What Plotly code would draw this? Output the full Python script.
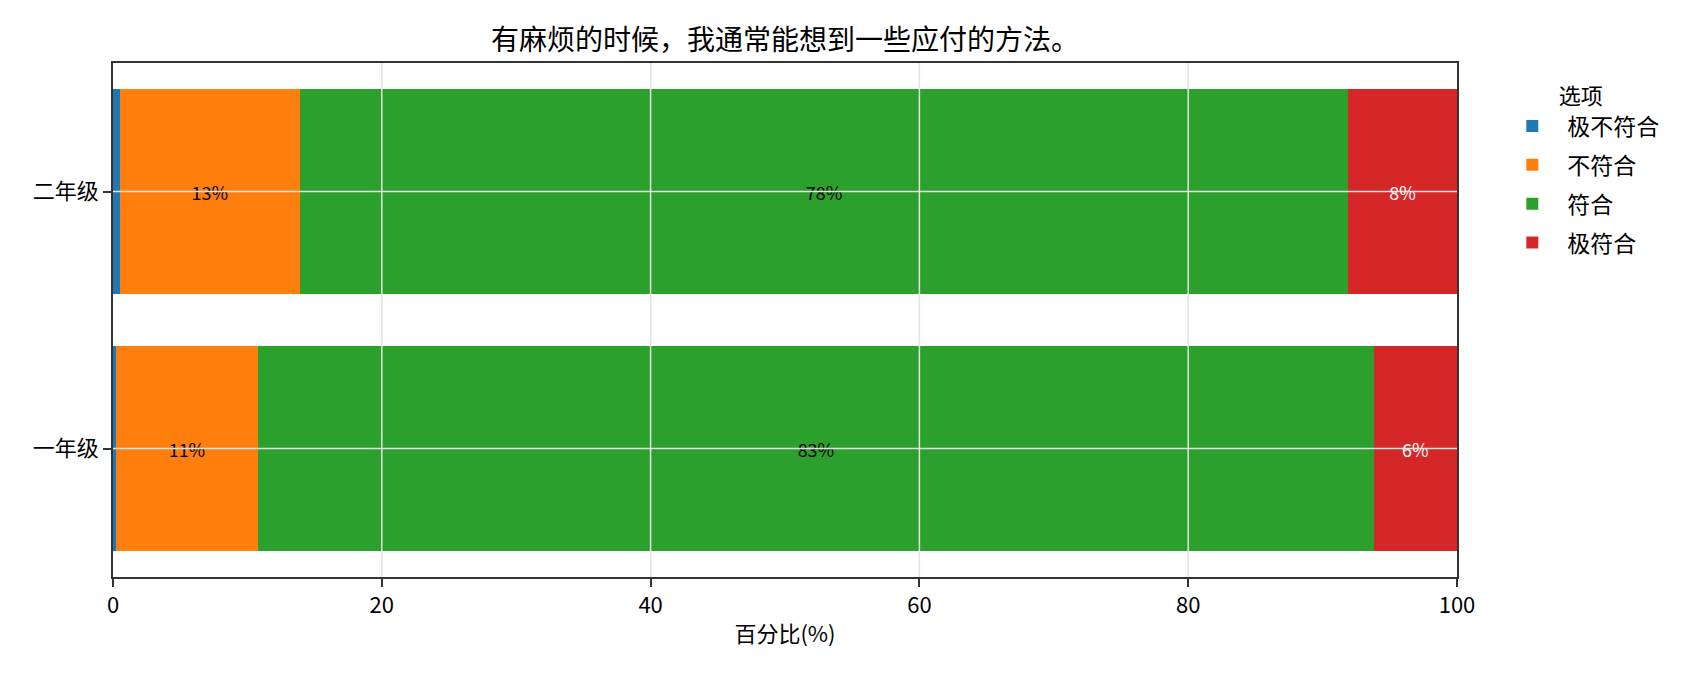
import plotly.graph_objects as go

# Daten (Prozent je Jahrgang)
grades = ["一年级", "二年级"]
options = ["极不符合", "不符合", "符合", "极符合"]
v_very_no = [0.2, 0.5]
v_no = [10.6, 13.4]
v_yes = [83.0, 78.0]
v_very_yes = [6.2, 8.1]
x_ticks = [0, 20, 40, 60, 80, 100]

colors = ["#1f77b4", "#ff7f0e", "#2ca02c", "#d62728"]
label_colors = ["black", "black", "black", "white"]
series = [v_very_no, v_no, v_yes, v_very_yes]

font_cn = "Microsoft YaHei, Noto Sans CJK SC, sans-serif"
grid_col = "#e3e3e3"

fig = go.Figure()
for name, vals, col, tcol in zip(options, series, colors, label_colors):
    # kleine Segmente ohne Beschriftung
    labels = [f"{v:.0f}%" if v >= 3 else "" for v in vals]
    fig.add_trace(go.Bar(
        y=grades, x=vals, name=name, orientation="h", legendgroup=name,
        marker=dict(color=col, line=dict(width=0)),
        text=labels, textposition="inside", insidetextanchor="middle",
        textangle=0, constraintext="none",
        textfont=dict(color=tcol, size=18, family=font_cn),
        hoverinfo="x+name",
    ))

# Gitterlinien ueber den Balken (wie im Original)
for t in x_ticks[1:-1]:
    fig.add_shape(type="line", xref="x", yref="paper", x0=t, x1=t, y0=0, y1=1,
                  line=dict(color=grid_col, width=1.5), layer="above")
for i in range(len(grades)):
    fig.add_shape(type="line", xref="paper", yref="y", x0=0, x1=1, y0=i, y1=i,
                  line=dict(color=grid_col, width=1.5), layer="above")

# Browser-Rand (8px) ausgleichen
fig.update_layout(
    barmode="stack", bargap=0.2,
    width=1692, height=672,
    margin=dict(l=105, r=243, t=55, b=103),
    plot_bgcolor="white", paper_bgcolor="white",
    font=dict(family=font_cn, size=22, color="black"),
    title=dict(text="有麻烦的时候，我通常能想到一些应付的方法。", x=0.5, xref="paper",
               y=1 - 32 / 672, yref="container", yanchor="middle",
               font=dict(size=28, color="black")),
    legend=dict(title=dict(text="选项", side="top center", font=dict(size=22)),
                x=1.03, y=0.975, xanchor="left", yanchor="top",
                font=dict(size=23), traceorder="grouped", tracegroupgap=6,
                itemwidth=60, bgcolor="rgba(0,0,0,0)"),
)

fig.update_xaxes(range=[0, 100], tickvals=x_ticks, showgrid=False,
                 showline=True, linecolor="#333333", linewidth=1.5, mirror=True,
                 ticks="outside", ticklen=8, tickcolor="#333333", tickwidth=1.5,
                 tickfont=dict(size=22), zeroline=False,
                 title=dict(text="百分比(%)", font=dict(size=22), standoff=8))
fig.update_yaxes(range=[-0.5, 1.5], categoryorder="array", categoryarray=grades,
                 showgrid=False,
                 showline=True, linecolor="#333333", linewidth=1.5, mirror=True,
                 ticks="outside", ticklen=8, tickcolor="#333333", tickwidth=1.5,
                 tickfont=dict(size=22), zeroline=False)

fig.write_html("out.html")
